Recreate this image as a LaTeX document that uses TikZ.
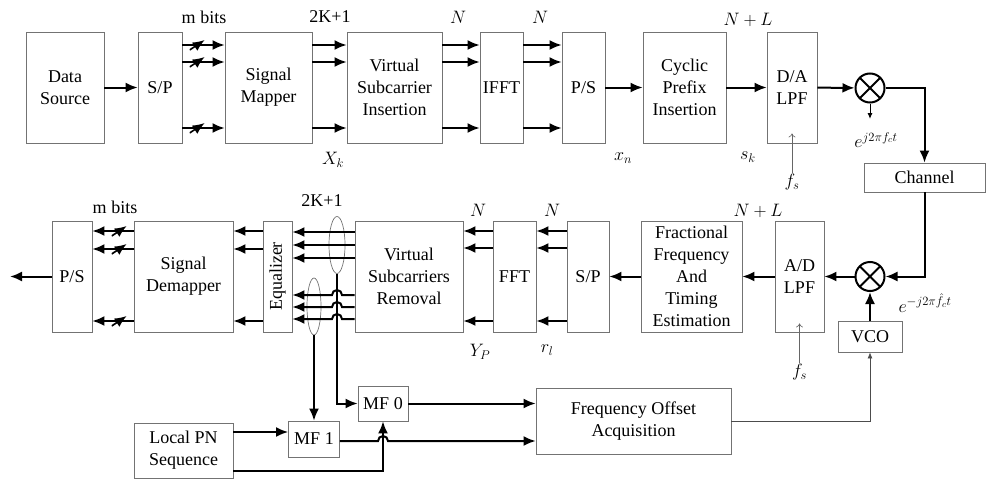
\RequirePackage{fix-cm}
\documentclass[tikz,border=0pt]{standalone}
\usepackage{fontspec}
\setmainfont{Liberation Serif}
\usepackage{graphicx}
\usetikzlibrary{arrows.meta, shapes.geometric}

\begin{document}
\begin{tikzpicture}[
    x=1pt, y=-1pt,
    font=\fontsize{18}{22}\selectfont,
    every node/.style={align=center, inner sep=1pt},
    block/.style={rectangle, draw=black!55, line width=0.8pt, inner sep=0pt, minimum height=111pt},
    sig/.style={-{Latex[length=12pt,width=10pt]}, line width=2pt},
    thin sig/.style={-{Latex[length=6pt,width=5pt]}, line width=0.7pt, draw=black!70},
    clk/.style={-{To[length=4pt,width=7pt]}, line width=0.6pt, draw=black!60},
    mixer/.style={circle, draw, line width=2pt, minimum size=29pt, inner sep=0pt,
        path picture={\draw[line width=2pt] (path picture bounding box.north west) -- (path picture bounding box.south east)
            (path picture bounding box.north east) -- (path picture bounding box.south west);}},
    bundle/.style={ellipse, draw=black!55, line width=0.7pt, inner sep=0pt},
    slashmark/.style={inner sep=0pt, minimum width=15pt, minimum height=10pt,
        path picture={\draw[line width=1.6pt] (path picture bounding box.south west) -- (path picture bounding box.north east);}}
]
\useasboundingbox (0,0) rectangle (986,479);

% transmitter
\node[block, minimum width=78pt] (data_source) at (65,87.5) {Data\\Source};
\node[block, minimum width=44pt] (sp_tx) at (160,87.5) {S/P};
\node[block, minimum width=87pt] (signal_mapper) at (268.5,87.5) {Signal\\Mapper};
\node[block, minimum width=95pt] (vsc_insert) at (394.5,87.5) {Virtual\\Subcarrier\\Insertion};
\node[block, minimum width=43pt] (ifft) at (501.5,87.5) {IFFT};
\node[block, minimum width=43pt] (ps_tx) at (583.5,87.5) {P/S};
\node[block, minimum width=83pt] (cp_insert) at (684.5,87.5) {Cyclic\\Prefix\\Insertion};
\node[block, minimum width=50pt] (dac) at (792,87.5) {D/A\\LPF};
\node[mixer] (mix_tx) at (870,88) {};
\node[block, minimum width=121pt, minimum height=29pt] (channel) at (924.5,177.5) {Channel};

% receiver
\node[mixer] (mix_rx) at (870,276.5) {};
\node[block, minimum width=49pt] (adc) at (799.5,276.5) {A/D\\LPF};
\node[block, minimum width=101pt] (sync_est) at (691.5,276.5) {Fractional\\Frequency\\And\\Timing\\Estimation};
\node[block, minimum width=42pt] (sp_rx) at (588,276.5) {S/P};
\node[block, minimum width=43pt] (fft) at (514.5,276.5) {FFT};
\node[block, minimum width=108pt] (vsc_remove) at (409,276.5) {Virtual\\Subcarriers\\Removal};
\node[block, minimum width=29pt] (equalizer) at (277.5,276.5) {\rotatebox{90}{Equalizer}};
\node[block, minimum width=99pt] (demapper) at (183.5,276.5) {Signal\\Demapper};
\node[block, minimum width=40pt] (ps_rx) at (72,276.5) {P/S};
\node[block, minimum width=64pt, minimum height=31pt] (vco) at (870,336.5) {VCO};
\node[block, minimum width=195pt, minimum height=66pt] (freq_acq) at (633.5,421) {Frequency Offset\\Acquisition};
\node[block, minimum width=50pt, minimum height=35pt] (mf0) at (383,403.5) {MF 0};
\node[block, minimum width=51pt, minimum height=36pt] (mf1) at (314,439) {MF 1};
\node[block, minimum width=99pt, minimum height=55pt] (local_pn) at (183.5,450.5) {Local PN\\Sequence};
\node[bundle, minimum width=16pt, minimum height=57pt] (bundle_data) at (337,245) {};
\node[bundle, minimum width=14pt, minimum height=57pt] (bundle_pilot) at (314,306.5) {};
\coordinate (bit_out) at (10,276.5);
\coordinate (lo_tx) at (870,119);

% labels
\node (mbits_tx) at (204,17) {m bits};
\node (width_tx) at (330,17) {2K+1};
\node (n_vsc) at (458,17) {$N$};
\node (n_ifft) at (540,17) {$N$};
\node (nl_tx) at (748,20) {$N+L$};
\node (xk) at (333,160) {$X_k$};
\node (xn) at (623,158) {$x_n$};
\node (sk) at (748,157) {$s_k$};
\node (fs_tx) at (792,182) {$f_s$};
\node (lo_tx_label) at (876,140) {$e^{j2\pi f_c t}$};
\node (mbits_rx) at (115,207) {m bits};
\node (width_rx) at (322,201) {2K+1};
\node (n_vsr) at (478,210) {$N$};
\node (n_fft) at (552,210) {$N$};
\node (nl_rx) at (758,211) {$N+L$};
\node (yp) at (480,352) {$Y_P$};
\node (rl) at (547,350) {$r_l$};
\node (fs_rx) at (799.5,372) {$f_s$};
\node (lo_rx_label) at (925,303) {$e^{-j2\pi\hat{f}_c t}$};

% transmitter arrows
\draw[sig] (data_source) -- (sp_tx);
\foreach \y in {45,62,128} {
    \draw[sig] (sp_tx.east |- 0,\y) -- node[slashmark, pos=0.35] {} (signal_mapper.west |- 0,\y);
    \draw[sig] (signal_mapper.east |- 0,\y) -- (vsc_insert.west |- 0,\y);
    \draw[sig] (vsc_insert.east |- 0,\y) -- (ifft.west |- 0,\y);
    \draw[sig] (ifft.east |- 0,\y) -- (ps_tx.west |- 0,\y);
}
\draw[sig] (ps_tx) -- (cp_insert);
\draw[sig] (cp_insert) -- (dac);
\draw[sig] (dac) -- (mix_tx);
\draw[sig] (mix_tx) -| (channel.north);
\draw[thin sig, line width=1pt, draw=black] (mix_tx.south) -- (lo_tx);
\draw[clk] (fs_tx.north) -- ([yshift=10pt]dac.south);

% receiver arrows
\draw[sig] (channel.south) |- (mix_rx);
\draw[sig] (vco) -- (mix_rx);
\draw[sig] (mix_rx) -- (adc);
\draw[sig] (adc) -- (sync_est);
\draw[sig] (sync_est) -- (sp_rx);
\draw[clk] (fs_rx.north) -- ([yshift=9pt]adc.south);
\foreach \y in {231,248,321} {
    \draw[sig] (sp_rx.west |- 0,\y) -- (fft.east |- 0,\y);
    \draw[sig] (fft.west |- 0,\y) -- (vsc_remove.east |- 0,\y);
}
\foreach \y in {232,245,258}
    \draw[sig] (vsc_remove.west |- 0,\y) -- (equalizer.east |- 0,\y);
\foreach \y in {295,307,319}
    \draw[sig] (vsc_remove.west |- 0,\y) -- (342,\y) arc (0:-180:5) -- (equalizer.east |- 0,\y);
\foreach \y in {231,249,321} {
    \draw[sig] (equalizer.west |- 0,\y) -- (demapper.east |- 0,\y);
    \draw[sig] (demapper.west |- 0,\y) -- node[slashmark, pos=0.35] {} (ps_rx.east |- 0,\y);
}
\draw[sig] (ps_rx) -- (bit_out);

% acquisition
\draw[sig] (bundle_data.south) |- (mf0);
\draw[sig] (bundle_pilot.south) -- (mf1);
\draw[sig] (local_pn.east |- 0,432) -- (mf1.west |- 0,432);
\draw[sig] (mf1.east |- 0,441) -- (378,441) arc (-180:0:5) -- (freq_acq.west |- 0,441);
\draw[sig] (local_pn.east |- 0,471) -| (mf0);
\draw[sig] (mf0) -- (freq_acq.west |- mf0);
\draw[thin sig] (freq_acq) -| (vco);
\end{tikzpicture}
\end{document}
